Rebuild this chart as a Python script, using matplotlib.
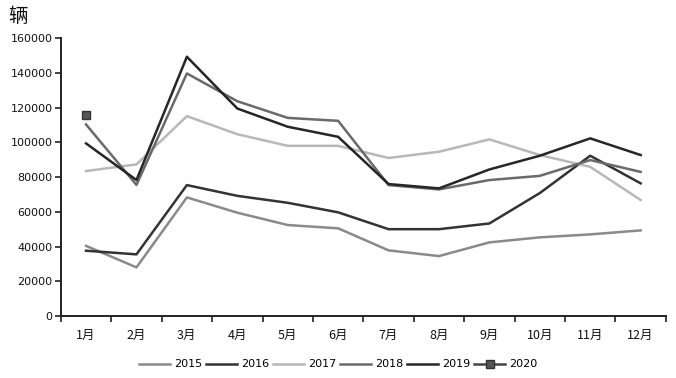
import matplotlib
matplotlib.use("Agg")
import matplotlib.pyplot as plt
import numpy as np

plt.rcParams['font.family'] = ['Noto Sans CJK SC', 'DejaVu Sans']

months = ["1月", "2月", "3月", "4月", "5月", "6月", "7月", "8月", "9月", "10月", "11月", "12月"]
y2015 = [40400, 28000, 68300, 59500, 52400, 50500, 37800, 34500, 42400, 45300, 47000, 49300]
y2016 = [37600, 35500, 75400, 69200, 65200, 59700, 50000, 50000, 53300, 70800, 92300, 76400]
y2017 = [83500, 87300, 115100, 104700, 98000, 98000, 91000, 94600, 101700, 92700, 85900, 66800]
y2018 = [110300, 75500, 139700, 123700, 114100, 112400, 75400, 72900, 78300, 80700, 89800, 83000]
y2019 = [99400, 78300, 149300, 119500, 109000, 103200, 76000, 73500, 84400, 92300, 102300, 92700]
y2020 = [116000]
yticks = [0, 20000, 40000, 60000, 80000, 100000, 120000, 140000, 160000]

fig = plt.figure(figsize=(6.76, 3.78), dpi=100)
ax = fig.add_axes([0.090, 0.164, 0.895, 0.735])
x = np.arange(len(months))

ax.plot(x, y2015, color='#8a8a8a', lw=1.8, label='2015')
ax.plot(x, y2016, color='#333333', lw=1.8, label='2016')
ax.plot(x, y2017, color='#b8b8b8', lw=1.8, label='2017')
ax.plot(x, y2018, color='#6a6a6a', lw=1.8, label='2018')
ax.plot(x, y2019, color='#262626', lw=1.8, label='2019')
ax.plot(x[:len(y2020)], y2020, color='#444444', lw=1.8, marker='s', ms=6,
        markerfacecolor='#555555', markeredgecolor='#333333', label='2020')

ax.set_xlim(-0.5, 11.5)
ax.set_ylim(0, 160000)
ax.set_yticks(yticks)
ax.set_yticklabels([str(v) for v in yticks], fontsize=8, color='#111111', family=['DejaVu Sans'])
ax.set_xticks(x)
ax.set_xticklabels(months, fontsize=9, color='#111111')
ax.set_xticks(np.arange(-0.5, 12, 1), minor=True)
ax.tick_params(axis='x', which='major', length=0, pad=9)
ax.tick_params(axis='x', which='minor', length=4, width=1.2, direction='out', color='#222222')
ax.tick_params(axis='y', length=4, width=1.2, direction='out', color='#222222', pad=2)

for s in ['top', 'right']:
    ax.spines[s].set_visible(False)
for s in ['left', 'bottom']:
    ax.spines[s].set_color('#222222')
    ax.spines[s].set_linewidth(1.4)

fig.text(0.012, 0.929, "辆", fontsize=14, color='#111111', ha='left', va='bottom')

leg = fig.legend(loc='center', bbox_to_anchor=(0.50, 0.036), ncol=6, frameon=False,
                 handlelength=2.8, handletextpad=0.35, columnspacing=0.35,
                 prop={'family': ['DejaVu Sans'], 'size': 8})

fig.savefig("out.png", dpi=100, facecolor='white')
